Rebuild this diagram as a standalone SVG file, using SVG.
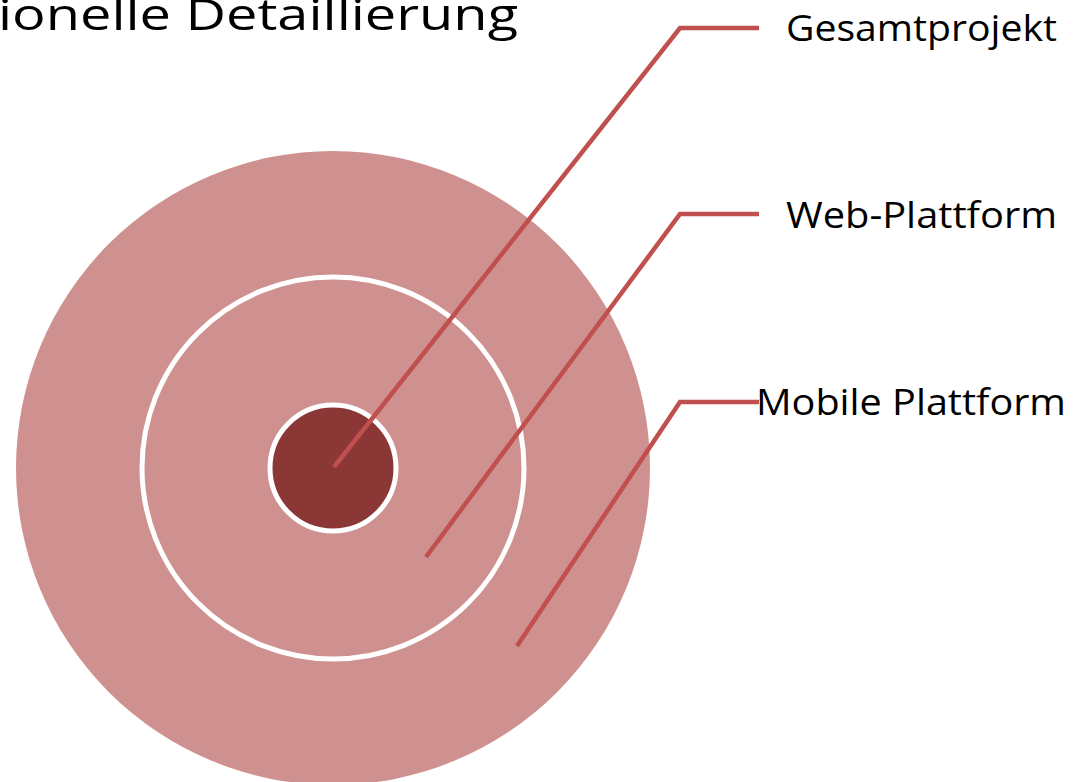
<svg xmlns="http://www.w3.org/2000/svg" width="1086" height="782" viewBox="0 0 1086 782">
<style>
.lbl{font-family:"Open Sans","Liberation Sans",sans-serif;font-size:37px;fill:#000}
.title{font-family:"Open Sans","Liberation Sans",sans-serif;font-size:44px;fill:#000}
.ring{stroke:#fff;stroke-width:5}
.conn{fill:none;stroke:#C0504D;stroke-width:4.5}
</style>
<rect width="1086" height="782" fill="#fff"/>
<text class="title" x="-2" y="30" textLength="520" lengthAdjust="spacingAndGlyphs">ionelle Detaillierung</text>
<g id="outer"><circle cx="333" cy="468" r="317" fill="#CF9190"/></g>
<g id="middle"><circle class="ring" cx="333" cy="468" r="191" fill="#CF9190"/></g>
<g id="inner"><circle class="ring" cx="333" cy="468" r="63" fill="#8A3736"/></g>
<g id="connectors">
<polyline class="conn" points="334,467 680,28 759,28"/>
<polyline class="conn" points="426,557 680,214 759,214"/>
<polyline class="conn" points="517,646 680,402 759,402"/>
</g>
<g id="label-gesamtprojekt"><text class="lbl" x="786" y="41" textLength="271" lengthAdjust="spacingAndGlyphs">Gesamtprojekt</text></g>
<g id="label-web"><text class="lbl" x="786" y="228" textLength="271" lengthAdjust="spacingAndGlyphs">Web-Plattform</text></g>
<g id="label-mobile"><text class="lbl" x="756" y="415" textLength="310" lengthAdjust="spacingAndGlyphs">Mobile Plattform</text></g>
</svg>
